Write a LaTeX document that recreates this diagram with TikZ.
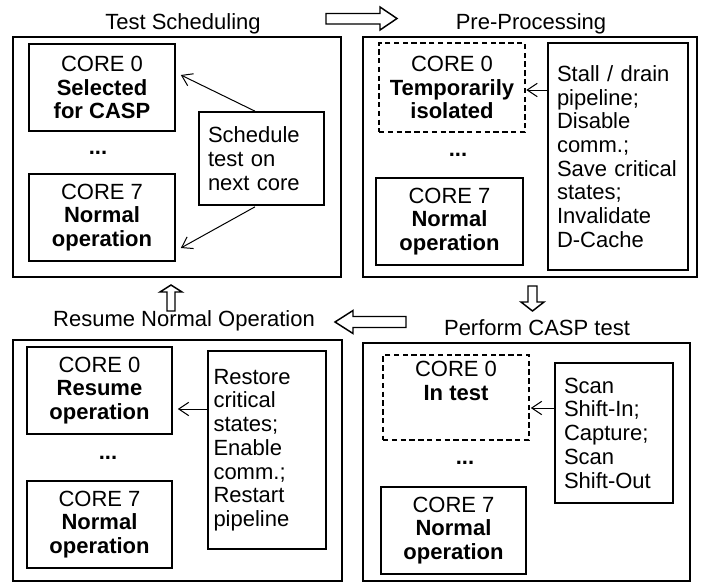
\documentclass[tikz,border=0pt]{standalone}
\usepackage{fontspec}
\setmainfont{Liberation Sans}
\usetikzlibrary{arrows.meta,calc}
\begin{document}
\begin{tikzpicture}[x=0.75pt,y=-0.75pt,
  every node/.style={font=\fontsize{16.5pt}{17.8pt}\selectfont},
  sz/.style 2 args={minimum width={#1*0.75pt},minimum height={#2*0.75pt}},
  outerbox/.style={draw,line width=1.9pt,inner sep=0pt},
  corebox/.style={draw,line width=1.25pt,inner sep=0pt,align=center},
  isolbox/.style={corebox,dash pattern=on 4pt off 2.6pt},
  actbox/.style={draw,line width=1.25pt,inner ysep=0pt,align=left},
  title/.style={anchor=base,inner sep=0pt},
  dots/.style={inner sep=0pt},
  conn/.style={line width=0.75pt,-{Straight Barb[length=7.5pt,width=10pt,line width=0.75pt]}},
  blockarrow/.style={draw,line width=1.1pt,fill=white}
]
\fill[white] (0,0) rectangle (701,582);
\useasboundingbox (0,0) rectangle (701,582);

% ---------- Test Scheduling ----------
\node[title] (tTL) at (183,29) {Test Scheduling};
\node[outerbox,sz={328}{240}] (oTL) at (177,157) {};
\node[corebox,sz={146}{87}] (c0TL) at (102,87.5) {CORE 0\\\textbf{Selected}\\\textbf{for CASP}};
\node[dots] (dTL) at (98,153) {\textbf{...}};
\node[corebox,sz={146}{87}] (c7TL) at (102,217.5) {CORE 7\\\textbf{Normal}\\\textbf{operation}};
\node[actbox,sz={125}{93},inner xsep={9*0.75pt},text width={107*0.75pt}] (sTL) at (261.5,158.5) {Schedule\\test on\\next core};
\draw[conn] ([shift={(-6.5,0)}]sTL.north) -- ([shift={(5,-12.5)}]c0TL.east);
\draw[conn] ([shift={(-6.5,1)}]sTL.south) -- ([shift={(5,30.5)}]c7TL.east);

% ---------- Pre-Processing ----------
\node[title] (tTR) at (531,29) {Pre-Processing};
\node[outerbox,sz={334}{240}] (oTR) at (530,157) {};
\node[isolbox,sz={146}{89}] (c0TR) at (452,87.5) {CORE 0\\\textbf{Temporarily}\\\textbf{isolated}};
\node[dots] (dTR) at (458,155) {\textbf{...}};
\node[corebox,sz={147}{87}] (c7TR) at (449.5,221.5) {CORE 7\\\textbf{Normal}\\\textbf{operation}};
\node[actbox,sz={140}{227},inner xsep={9*0.75pt},text width={122*0.75pt}] (sTR) at (618,156.5) {Stall / drain\\pipeline;\\Disable\\comm.;\\Save critical\\states;\\Invalidate\\D-Cache};
\draw[conn] ($(c0TR.east -| sTR.west)+(0,2.5)$) -- ($(c0TR.east)+(0.5,2.5)$);

% ---------- Resume Normal Operation ----------
\node[title] (tBL) at (184,326) {Resume Normal Operation};
\node[outerbox,sz={329}{241}] (oBL) at (177.5,460.5) {};
\node[corebox,sz={145}{87}] (c0BL) at (99.5,390.5) {CORE 0\\\textbf{Resume}\\\textbf{operation}};
\node[dots] (dBL) at (108,458) {\textbf{...}};
\node[corebox,sz={145}{87}] (c7BL) at (99.5,524.5) {CORE 7\\\textbf{Normal}\\\textbf{operation}};
\node[actbox,sz={118}{198},inner xsep={5.5*0.75pt},text width={107*0.75pt}] (sBL) at (267,450) {Restore\\critical\\states;\\Enable\\comm.;\\Restart\\pipeline};
\draw[conn] ($(c0BL.east -| sBL.west)+(0,18.5)$) -- ($(c0BL.east)+(5,18.5)$);

% ---------- Perform CASP test ----------
\node[title] (tBR) at (537,335) {Perform CASP test};
\node[outerbox,sz={327}{238}] (oBR) at (526.5,462) {};
\node[isolbox,sz={146}{85}] (c0BR) at (456,397.5) {CORE 0\\\textbf{In test}\\\rule[-7pt]{0pt}{7pt}};
\node[dots] (dBR) at (465,463) {\textbf{...}};
\node[corebox,sz={145}{87}] (c7BR) at (453.5,530.5) {CORE 7\\\textbf{Normal}\\\textbf{operation}};
\node[actbox,sz={118}{140},inner xsep={9*0.75pt},text width={100*0.75pt}] (sBR) at (614,433) {Scan\\Shift-In;\\Capture;\\Scan\\Shift-Out};
\draw[conn] ($(c0BR.east -| sBR.west)+(0,10.5)$) -- ($(c0BR.east)+(1,10.5)$);

% ---------- block arrows ----------
\draw[blockarrow] (326,13.5) -- (380,13.5) -- (380,7) -- (397,18.5) -- (380,30) -- (380,24) -- (326,24) -- cycle;
\draw[blockarrow] (528,286) -- (537,286) -- (537,302) -- (544,302) -- (532.5,311) -- (521,302) -- (528,302) -- cycle;
\draw[blockarrow] (406,316.5) -- (353,316.5) -- (353,310.5) -- (335,322) -- (353,333.5) -- (353,327.5) -- (406,327.5) -- cycle;
\draw[blockarrow] (167,311) -- (167,292) -- (160,292) -- (171,285) -- (182,292) -- (175,292) -- (175,311) -- cycle;
\end{tikzpicture}
\end{document}
